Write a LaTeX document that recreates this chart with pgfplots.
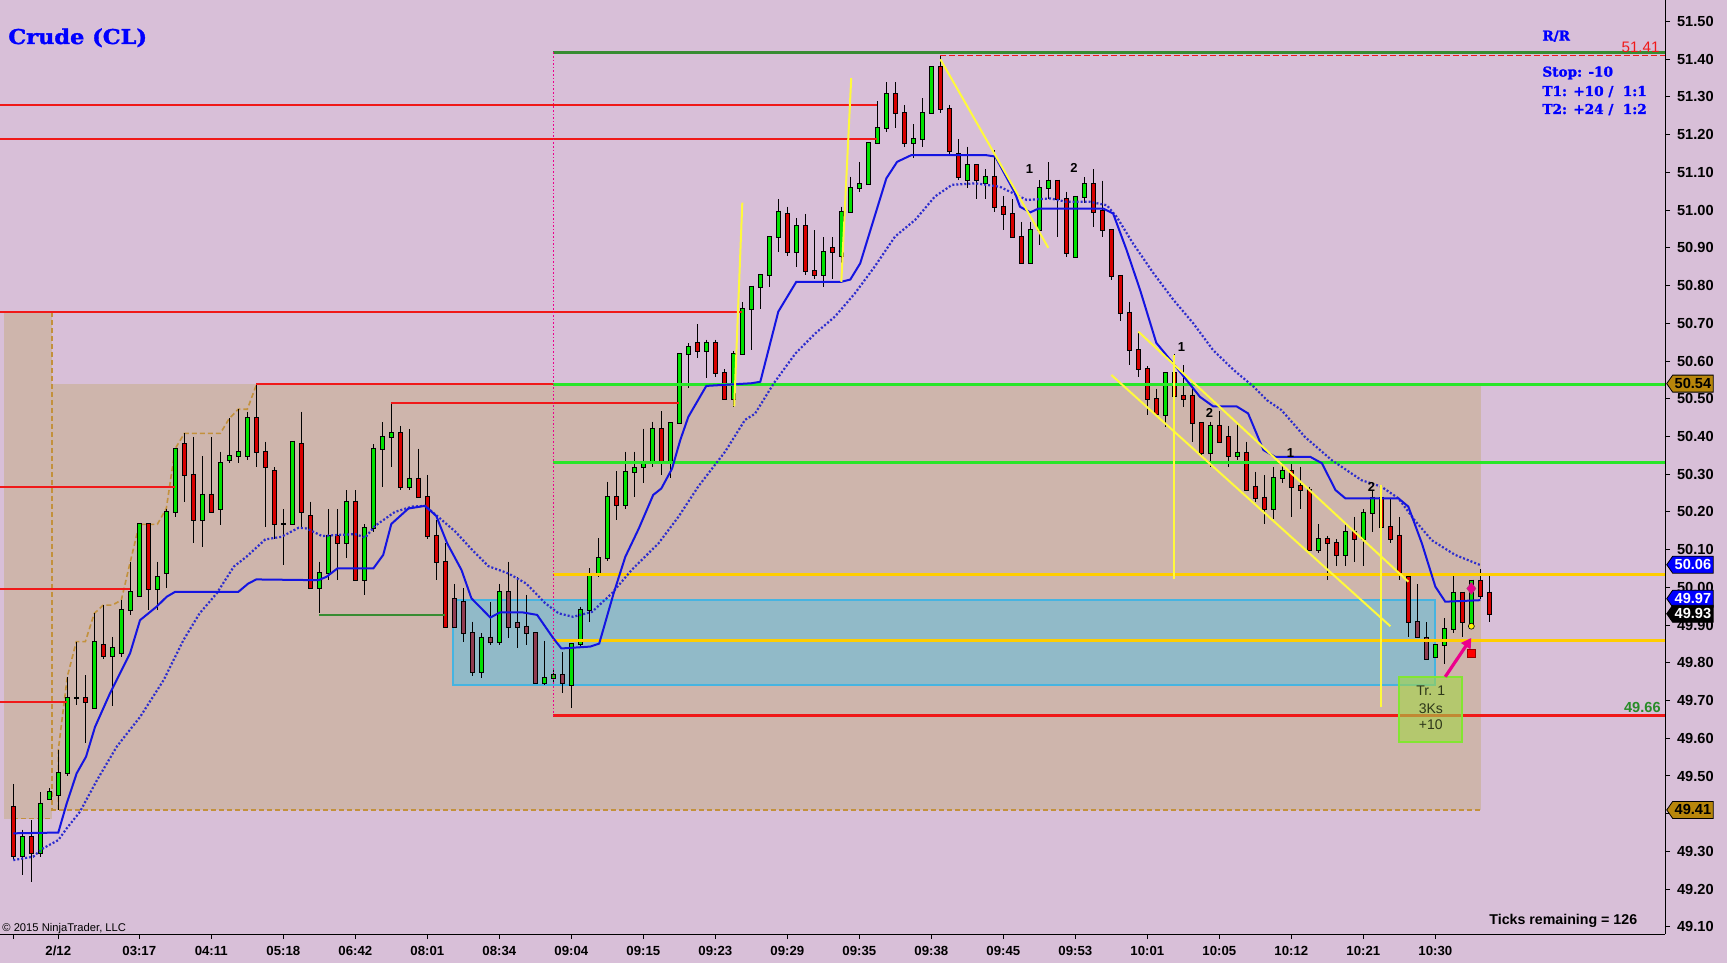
\documentclass[border=0pt]{standalone}
\usepackage{pgfplots}
\pgfplotsset{compat=1.18}
\usepackage{pgfplotstable}
\usepackage{fontspec}
\setmainfont{Liberation Sans}
\newfontfamily\cooper[BoldFeatures={FakeBold=1.6}]{DejaVu Serif}
\usetikzlibrary{shapes.symbols,arrows.meta}

\definecolor{bgc}{RGB}{216,191,216}
\definecolor{brownbg}{RGB}{206,181,172}
\definecolor{cgreen}{RGB}{0,225,0}
\definecolor{cred}{RGB}{215,0,0}
\definecolor{cmuted}{RGB}{145,60,80}
\definecolor{redline}{RGB}{240,25,25}
\definecolor{brightgreen}{RGB}{40,230,40}
\definecolor{darkgreen}{RGB}{55,140,50}
\definecolor{goldline}{RGB}{255,205,0}
\definecolor{yel}{RGB}{255,250,60}
\definecolor{mablue}{RGB}{20,20,225}
\definecolor{dotblue}{RGB}{45,45,205}
\definecolor{chan}{RGB}{195,145,60}
\definecolor{boxfill}{RGB}{145,186,200}
\definecolor{boxedge}{RGB}{70,180,225}
\definecolor{gold2}{RGB}{184,134,11}
\definecolor{tradefill}{RGB}{163,213,69}
\definecolor{tradeedge}{RGB}{130,230,50}
\definecolor{tradetext}{RGB}{45,55,25}
\definecolor{lblgreen}{RGB}{40,140,40}

% columns: bar index, open, high, low, close, m = 1 for bars shown muted inside the box
\pgfplotstableread{
i o h l c m
0 49.417 49.479 49.277 49.288 0
1 49.288 49.358 49.237 49.337 0
2 49.337 49.383 49.220 49.297 0
3 49.297 49.458 49.286 49.427 0
4 49.438 49.467 49.438 49.458 0
5 49.449 49.569 49.410 49.507 0
6 49.507 49.763 49.500 49.707 0
7 49.707 49.856 49.688 49.707 0
8 49.707 49.767 49.588 49.697 0
9 49.679 49.931 49.679 49.856 0
10 49.847 49.953 49.809 49.818 0
11 49.818 49.869 49.685 49.838 0
12 49.827 49.966 49.816 49.940 0
13 49.940 50.068 49.927 49.987 0
14 49.978 50.167 49.978 50.167 0
15 50.167 50.167 49.940 49.996 0
16 49.996 50.068 49.940 50.028 0
17 50.037 50.209 49.997 50.199 0
18 50.199 50.368 50.187 50.368 0
19 50.379 50.408 50.227 50.298 0
20 50.298 50.399 50.117 50.178 0
21 50.178 50.348 50.108 50.246 0
22 50.246 50.399 50.199 50.199 0
23 50.207 50.360 50.165 50.329 0
24 50.337 50.448 50.329 50.348 0
25 50.348 50.472 50.329 50.360 0
26 50.348 50.466 50.337 50.448 0
27 50.448 50.536 50.318 50.360 0
28 50.360 50.386 50.161 50.318 0
29 50.308 50.318 50.127 50.167 0
30 50.167 50.207 50.059 50.167 0
31 50.167 50.386 50.167 50.386 0
32 50.379 50.466 50.161 50.199 0
33 50.189 50.227 49.997 49.997 0
34 49.997 50.068 49.931 50.037 0
35 50.037 50.207 50.019 50.137 0
36 50.137 50.207 50.019 50.117 0
37 50.117 50.258 50.077 50.227 0
38 50.227 50.258 50.019 50.019 0
39 50.019 50.167 49.980 50.158 0
40 50.158 50.379 50.148 50.368 0
41 50.368 50.437 50.267 50.398 0
42 50.398 50.488 50.318 50.408 0
43 50.408 50.428 50.258 50.267 0
44 50.267 50.419 50.258 50.288 0
45 50.288 50.368 50.239 50.239 0
46 50.239 50.298 50.127 50.137 0
47 50.137 50.178 50.019 50.068 0
48 50.068 50.117 49.896 49.896 0
49 49.968 50.009 49.896 49.896 1
50 49.962 49.997 49.856 49.878 1
51 49.878 49.909 49.765 49.776 1
52 49.776 49.878 49.759 49.867 0
53 49.867 49.962 49.847 49.856 1
54 49.856 50.009 49.847 49.987 0
55 49.987 50.068 49.867 49.896 1
56 49.906 50.028 49.838 49.896 1
57 49.896 49.980 49.847 49.878 1
58 49.878 49.878 49.747 49.747 1
59 49.747 49.859 49.741 49.759 0
60 49.759 49.780 49.750 49.768 0
61 49.768 49.829 49.719 49.747 1
62 49.741 49.849 49.679 49.849 0
63 49.849 49.949 49.843 49.940 0
64 49.940 50.050 49.909 50.033 0
65 50.033 50.130 50.028 50.077 0
66 50.077 50.280 50.071 50.239 0
67 50.239 50.308 50.178 50.218 0
68 50.218 50.360 50.207 50.307 0
69 50.307 50.360 50.239 50.317 0
70 50.320 50.421 50.277 50.333 0
71 50.336 50.439 50.320 50.419 0
72 50.419 50.467 50.298 50.336 0
73 50.336 50.436 50.289 50.436 0
74 50.436 50.618 50.436 50.618 0
75 50.618 50.647 50.528 50.638 0
76 50.647 50.698 50.607 50.627 0
77 50.627 50.657 50.554 50.647 0
78 50.647 50.657 50.557 50.567 0
79 50.567 50.578 50.498 50.498 0
80 50.498 50.627 50.479 50.618 0
81 50.618 50.757 50.618 50.737 0
82 50.737 50.797 50.629 50.797 0
83 50.797 50.827 50.737 50.827 0
84 50.827 50.928 50.797 50.928 0
85 50.928 51.029 50.888 50.996 0
86 50.989 51.009 50.878 50.888 0
87 50.888 50.978 50.848 50.958 0
88 50.958 50.990 50.828 50.838 0
89 50.838 50.947 50.817 50.827 0
90 50.827 50.928 50.797 50.888 0
91 50.899 50.928 50.817 50.888 0
92 50.878 51.009 50.817 50.996 0
93 50.996 51.089 50.996 51.058 0
94 51.058 51.128 51.048 51.068 0
95 51.068 51.177 51.068 51.177 0
96 51.177 51.289 51.177 51.217 0
97 51.217 51.339 51.208 51.307 0
98 51.307 51.339 51.217 51.257 0
99 51.257 51.279 51.166 51.177 0
100 51.177 51.228 51.137 51.188 0
101 51.188 51.296 51.166 51.257 0
102 51.257 51.379 51.257 51.379 0
103 51.379 51.410 51.257 51.267 0
104 51.267 51.279 51.146 51.158 0
105 51.148 51.188 51.080 51.087 0
106 51.080 51.168 51.058 51.119 0
107 51.119 51.119 51.029 51.080 0
108 51.071 51.108 51.029 51.089 0
109 51.089 51.159 50.996 51.009 0
110 51.009 51.038 50.947 50.989 0
111 50.989 51.029 50.928 50.928 0
112 50.928 50.969 50.859 50.859 0
113 50.859 50.969 50.859 50.947 0
114 50.947 51.080 50.907 51.058 0
115 51.058 51.127 51.029 51.078 0
116 51.078 51.078 50.928 51.029 0
117 51.029 51.049 50.876 50.887 0
118 50.876 51.036 50.876 51.036 0
119 51.036 51.087 51.018 51.068 0
120 51.068 51.108 50.956 50.996 0
121 50.998 51.078 50.928 50.947 0
122 50.947 50.947 50.816 50.826 0
123 50.826 50.826 50.707 50.728 0
124 50.728 50.757 50.589 50.629 0
125 50.629 50.678 50.558 50.578 0
126 50.578 50.587 50.457 50.498 0
127 50.498 50.527 50.457 50.459 0
128 50.457 50.567 50.426 50.567 0
129 50.567 50.619 50.508 50.508 0
130 50.508 50.589 50.477 50.498 0
131 50.508 50.536 50.386 50.436 0
132 50.436 50.436 50.351 50.357 0
133 50.357 50.439 50.318 50.428 0
134 50.428 50.468 50.386 50.386 0
135 50.398 50.428 50.318 50.348 0
136 50.348 50.436 50.337 50.357 0
137 50.357 50.386 50.258 50.258 0
138 50.267 50.307 50.227 50.238 0
139 50.238 50.298 50.168 50.207 0
140 50.207 50.318 50.180 50.289 0
141 50.289 50.336 50.277 50.308 0
142 50.308 50.329 50.187 50.267 0
143 50.268 50.320 50.207 50.258 0
144 50.258 50.267 50.099 50.099 0
145 50.099 50.167 50.090 50.127 0
146 50.127 50.137 50.019 50.117 0
147 50.117 50.127 50.056 50.087 0
148 50.087 50.167 50.056 50.147 0
149 50.147 50.187 50.068 50.127 0
150 50.127 50.207 50.056 50.198 0
151 50.198 50.258 50.147 50.238 0
152 50.238 50.267 50.159 50.159 0
153 50.159 50.238 50.117 50.127 0
154 50.137 50.187 50.019 50.037 0
155 50.028 50.028 49.869 49.907 0
156 49.907 50.008 49.869 49.869 1
157 49.867 49.907 49.809 49.809 1
158 49.816 49.847 49.816 49.847 0
159 49.847 49.918 49.798 49.889 0
160 49.889 50.030 49.878 49.986 0
161 49.986 49.986 49.869 49.907 0
162 49.897 50.018 49.889 50.018 0
163 50.018 50.048 49.968 49.978 0
164 49.986 50.030 49.907 49.929 0
}\candles

\begin{document}
\begin{tikzpicture}
\fill[bgc] (0,0) rectangle (863.5pt,481.5pt);
\useasboundingbox (0,0) rectangle (863.5pt,481.5pt);
\begin{axis}[
  at={(0pt,14.5pt)}, anchor=south west, scale only axis,
  width=832.5pt, height=467pt,
  xmin=-1.478, xmax=183.52, ymin=49.0811, ymax=51.557,
  enlargelimits=false, clip mode=individual,
  axis x line*=bottom, axis y line*=right,
  axis line style={black, line width=0.5pt},
  tick align=outside, major tick length=2.5pt,
  tick style={black, line width=0.5pt},
  xtick={0,5,14,22,30,38,46,54,62,70,78,86,94,102,110,118,126,134,142,150,158},
  xticklabels={,2/12,03:17,04:11,05:18,06:42,08:01,08:34,09:04,09:15,09:23,09:29,09:35,09:38,09:45,09:53,10:01,10:05,10:12,10:21,10:30},
  ytick={49.1,49.2,49.3,49.4,49.5,49.6,49.7,49.8,49.9,50.0,50.1,50.2,50.3,50.4,50.5,50.6,50.7,50.8,50.9,51.0,51.1,51.2,51.3,51.4,51.5},
  /pgf/number format/assume math mode=true,
  yticklabel style={/pgf/number format/fixed, /pgf/number format/fixed zerofill, /pgf/number format/precision=2, font=\bfseries\fontsize{7.3}{8}\selectfont},
  xticklabel style={font=\bfseries\fontsize{6.6}{7}\selectfont},
  scaled y ticks=false,
]
% shaded range
\addplot[fill=brownbg, draw=none] coordinates {(-1.03,49.387) (4.3,49.387) (4.3,50.73) (-1.03,50.73)} -- cycle;
\addplot[fill=brownbg, draw=none] coordinates {(4.2,49.41) (163.1,49.41) (163.1,50.54) (4.2,50.54)} -- cycle;
% cyan box
\addplot[fill=boxfill, draw=boxedge, line width=1pt] coordinates {(48.9,49.741) (158.0,49.741) (158.0,49.967) (48.9,49.967)} -- cycle;
% channel dashed
\addplot[chan, line width=0.8pt, dash pattern=on 2.5pt off 1.5pt] coordinates {(4.3,50.73) (4.3,49.41)};
\addplot[chan, line width=0.8pt, dash pattern=on 2.5pt off 1.5pt] coordinates {(0,49.387) (4.2,49.387)};
\addplot[chan, line width=0.8pt, dash pattern=on 2.5pt off 1.5pt] coordinates {(4.2,49.41) (163.1,49.41)};
\addplot[chan, line width=0.8pt, dash pattern=on 2.5pt off 1.5pt] coordinates {(5,49.41) (5,49.569) (6,49.763) (7,49.856) (8,49.856) (9,49.931) (10,49.953) (11,49.953) (12,49.966) (13,50.068) (14,50.167) (16,50.167) (17,50.209) (18,50.368) (19,50.408) (23,50.408) (24,50.448) (25,50.472) (26,50.472) (27,50.536)};
% candles: wicks, black outlines, then coloured bodies
\addplot[black, line width=0.5pt, quiver={u=0, v={\thisrow{l}-\thisrow{h}}}] table[x=i, y=h]{\candles};
\addplot[black, line width=2.5pt, quiver={u=0, v={-abs(\thisrow{o}-\thisrow{c})-0.0053}}] table[x=i, y expr={max(\thisrow{o},\thisrow{c})+0.00265}]{\candles};
\addplot[cgreen, line width=1.5pt, quiver={u=0, v={-max(\thisrow{c}-\thisrow{o},0)}}] table[x=i, y expr={max(\thisrow{o},\thisrow{c})}]{\candles};
\addplot[cred, line width=1.5pt, quiver={u=0, v={-max(\thisrow{o}-\thisrow{c},0)*(1-\thisrow{m})}}] table[x=i, y expr={max(\thisrow{o},\thisrow{c})}]{\candles};
\addplot[cmuted, line width=1.5pt, quiver={u=0, v={-max(\thisrow{o}-\thisrow{c},0)*\thisrow{m}}}] table[x=i, y expr={max(\thisrow{o},\thisrow{c})}]{\candles};
% red levels
\addplot[redline, line width=1pt] coordinates {(-1.5,51.279) (96,51.279)};
\addplot[redline, line width=1pt] coordinates {(-1.5,51.189) (96,51.189)};
\addplot[redline, line width=1pt] coordinates {(-1.5,50.729) (81,50.729)};
\addplot[redline, line width=1pt] coordinates {(27,50.539) (60,50.539)};
\addplot[redline, line width=1pt] coordinates {(42,50.488) (74,50.488)};
\addplot[redline, line width=1pt] coordinates {(-1.5,50.267) (18,50.267)};
\addplot[redline, line width=1pt] coordinates {(-1.5,49.996) (13,49.996)};
\addplot[redline, line width=1pt] coordinates {(-1.5,49.697) (6,49.697)};
\addplot[redline, line width=1.5pt] coordinates {(60,49.659) (183.52,49.659)};
\addplot[redline, line width=0.9pt, dash pattern=on 3pt off 1.5pt] coordinates {(103,51.41) (183.52,51.41)};
% green / gold levels
\addplot[darkgreen, line width=1.5pt] coordinates {(60,51.418) (183.52,51.418)};
\addplot[darkgreen, line width=1pt] coordinates {(34,49.928) (48,49.928)};
\addplot[brightgreen, line width=1.5pt] coordinates {(60,50.539) (183.52,50.539)};
\addplot[brightgreen, line width=1.5pt] coordinates {(60,50.331) (183.52,50.331)};
\addplot[goldline, line width=1.5pt] coordinates {(60,50.035) (183.52,50.035)};
\addplot[goldline, line width=1.5pt] coordinates {(60,49.860) (183.52,49.860)};
% moving averages
\addplot[dotblue, line width=1.1pt, dash pattern=on 1pt off 1pt] coordinates {
(0,49.277) (2.2,49.286) (3.3,49.308) (5.0,49.330) (5.93,49.361) (7.4,49.405) (9.3,49.489) (11.5,49.578) (14.1,49.657) (16.7,49.754) (18.9,49.860) (20.7,49.931) (22.6,49.984) (24.5,50.055) (25.9,50.081) (28.0,50.127) (29.8,50.134) (31.7,50.158) (32.6,50.156) (34.3,50.136) (36.1,50.139) (38.0,50.141) (39.1,50.132) (40.2,50.163) (42.4,50.200) (44.3,50.214) (45.75,50.216) (47.2,50.187) (49.1,50.148) (51.0,50.099) (52.8,50.056) (55.0,50.037) (57.0,50.010) (59.1,49.958) (60.6,49.931) (62.2,49.922) (64.3,49.935) (66.5,49.984) (68.7,50.046) (71.7,50.117) (73.9,50.187) (76.1,50.267) (79.1,50.360) (81.3,50.444) (82.4,50.460) (84.5,50.541) (86.9,50.620) (89.1,50.673) (91.3,50.718) (93.5,50.779) (95.7,50.850) (97.97,50.930) (100.2,50.974) (102.4,51.036) (104.3,51.067) (106.9,51.071) (109.6,51.062) (112.6,51.027) (115.2,51.031) (117.0,51.022) (119.6,51.022) (121.5,51.013) (122.6,50.982) (124.4,50.912) (126.7,50.832) (128.9,50.762) (131.1,50.700) (133.3,50.629) (135.6,50.576) (137.8,50.532) (139.3,50.496) (140.9,50.470) (143.5,50.399) (146.5,50.337) (149.8,50.284) (152.0,50.267) (153.9,50.236) (155.7,50.178) (157.6,50.125) (160.2,50.086) (163.0,50.059)};
\addplot[mablue, line width=1pt] coordinates {
(0,49.348) (5.0,49.350) (5.93,49.427) (7.04,49.507) (8.08,49.551) (9.08,49.630) (10.74,49.719) (12.97,49.825) (14.08,49.913) (15.93,49.949) (17.04,49.975) (17.97,49.988) (25.0,49.988) (26.1,50.010) (27.0,50.021) (33.9,50.019) (34.8,50.028) (36.0,50.050) (40.0,50.050) (41.1,50.086) (42.0,50.168) (43.9,50.209) (45.75,50.216) (47.0,50.189) (48.2,50.117) (49.8,50.046) (50.9,49.971) (53.0,49.920) (54.1,49.934) (56.5,49.934) (58.2,49.927) (60.0,49.865) (60.9,49.838) (64.1,49.843) (65.1,49.851) (66.7,49.984) (68.0,50.081) (69.5,50.156) (71.1,50.245) (72.0,50.262) (73.2,50.315) (74.1,50.390) (75.0,50.452) (77.0,50.534) (82.0,50.541) (83.0,50.545) (85.0,50.731) (87.0,50.810) (92.0,50.810) (93.0,50.816) (94.1,50.859) (97.0,51.084) (98.2,51.128) (99.8,51.146) (108.0,51.146) (109.1,51.142) (111.3,51.045) (111.85,51.009) (113.0,50.994) (113.9,51.004) (121.1,51.004) (122.2,50.991) (123.7,50.894) (125.2,50.788) (127.0,50.648) (128.9,50.593) (131.85,50.505) (133.3,50.480) (135.9,50.480) (137.2,50.461) (138.9,50.364) (140.2,50.346) (144.1,50.346) (145.4,50.329) (146.9,50.258) (148.0,50.236) (153.9,50.236) (155.0,50.214) (156.5,50.117) (158.0,50.002) (159.1,49.962) (163.0,49.966)};
% yellow trend lines
\addplot[yel, line width=1pt] coordinates {(80.1,50.48) (81.0,51.02)};
\addplot[yel, line width=1pt] coordinates {(92.0,50.81) (93.1,51.35)};
\addplot[yel, line width=1pt] coordinates {(103.0,51.40) (115.0,50.90)};
\addplot[yel, line width=1pt] coordinates {(125.0,50.678) (155.0,50.015)};
\addplot[yel, line width=1pt] coordinates {(122.0,50.563) (153.0,49.897)};
\addplot[yel, line width=1pt] coordinates {(129.0,50.616) (129.0,50.023)};
\addplot[yel, line width=1pt] coordinates {(152.0,50.271) (152.0,49.684)};
% session divider
\addplot[magenta, line width=0.6pt, dash pattern=on 0.8pt off 1pt] coordinates {(60,51.418) (60,49.659)};
% trade box
\addplot[fill=tradefill, fill opacity=0.6, draw=tradeedge, line width=1pt] coordinates {(154.0,49.591) (161.0,49.591) (161.0,49.763) (154.0,49.763)} -- cycle;
% arrow and markers
\addplot[magenta, line width=1.6pt, -{Triangle[length=5pt,width=5.5pt]}] coordinates {(159.1,49.763) (162.0,49.866)};
\addplot[only marks, mark=diamond*, mark size=3pt, mark options={fill=magenta, draw=magenta!70!black, line width=0.3pt}] coordinates {(162,49.997)};
\addplot[only marks, mark=*, mark size=1.5pt, mark options={fill=yellow, draw=black, line width=0.3pt}] coordinates {(162,49.897)};
\addplot[only marks, mark=square*, mark size=2pt, mark options={fill=red, draw=red!60!black, line width=0.3pt}] coordinates {(162,49.826)};
% annotations
\node[font=\bfseries\fontsize{6.5}{7}\selectfont] at (axis cs:112.9,51.11) {1};
\node[font=\bfseries\fontsize{6.5}{7}\selectfont] at (axis cs:117.85,51.113) {2};
\node[font=\bfseries\fontsize{6.5}{7}\selectfont] at (axis cs:129.8,50.638) {1};
\node[font=\bfseries\fontsize{6.5}{7}\selectfont] at (axis cs:132.9,50.461) {2};
\node[font=\bfseries\fontsize{6.5}{7}\selectfont] at (axis cs:141.9,50.357) {1};
\node[font=\bfseries\fontsize{6.5}{7}\selectfont] at (axis cs:150.9,50.267) {2};
\node[anchor=base, text=tradetext, font=\fontsize{7}{8}\selectfont, inner sep=0pt] at (axis cs:157.5,49.714) {Tr. 1};
\node[anchor=base, text=tradetext, font=\fontsize{7}{8}\selectfont, inner sep=0pt] at (axis cs:157.5,49.666) {3Ks};
\node[anchor=base, text=tradetext, font=\fontsize{7}{8}\selectfont, inner sep=0pt] at (axis cs:157.5,49.622) {+10};
\coordinate (L1) at (axis cs:183.52,50.54);
\coordinate (L2) at (axis cs:183.52,50.06);
\coordinate (L3) at (axis cs:183.52,49.97);
\coordinate (L4) at (axis cs:183.52,49.93);
\coordinate (L5) at (axis cs:183.52,49.41);
\end{axis}
% price tags
\tikzset{tag/.style={signal, signal to=west, signal pointer angle=110, draw=black, line width=0.4pt, inner xsep=1pt, inner ysep=0.6pt, minimum height=8.5pt, anchor=west, font=\bfseries\fontsize{7.3}{8}\selectfont}}
\node[tag, fill=gold2, text=black] at ([xshift=0.6pt]L1) {50.54};
\node[tag, fill=blue, text=white] at ([xshift=0.6pt]L2) {50.06};
\node[tag, fill=blue, text=white] at ([xshift=0.6pt]L3) {49.97};
\node[tag, fill=black, text=white] at ([xshift=0.6pt]L4) {49.93};
\node[tag, fill=gold2, text=black] at ([xshift=0.6pt]L5) {49.41};
% texts
\node[anchor=base west, inner sep=0pt, text=blue, font=\cooper\bfseries\fontsize{10.2}{12}\selectfont] at (4pt,459.5pt) {\scalebox{1.1}[1]{Crude (CL)}};
\begin{scope}[every node/.style={anchor=base west, inner sep=0pt, text=blue, font=\cooper\bfseries\fontsize{6.8}{8}\selectfont}]
\node at (771pt,461.2pt) {R/R};
\node at (771pt,443.2pt) {Stop: -10};
\node at (771pt,433.5pt) {T1: +10 /\ \ 1:1};
\node at (771pt,424.5pt) {T2: +24 /\ \ 1:2};
\end{scope}
\node[anchor=base east, inner sep=0pt, text=redline, font=\fontsize{7.6}{9}\selectfont] at (830pt,455.2pt) {51.41};
\node[anchor=base east, inner sep=0pt, text=lblgreen, font=\bfseries\fontsize{7.3}{9}\selectfont] at (830.5pt,125.2pt) {49.66};
\node[anchor=base west, inner sep=0pt, font=\bfseries\fontsize{7.1}{8}\selectfont] at (744.5pt,19.5pt) {Ticks remaining = 126};
\node[anchor=base west, inner sep=0pt, font=\fontsize{5.6}{6}\selectfont] at (1pt,15.7pt) {\textcopyright{} 2015 NinjaTrader, LLC};
\end{tikzpicture}
\end{document}
